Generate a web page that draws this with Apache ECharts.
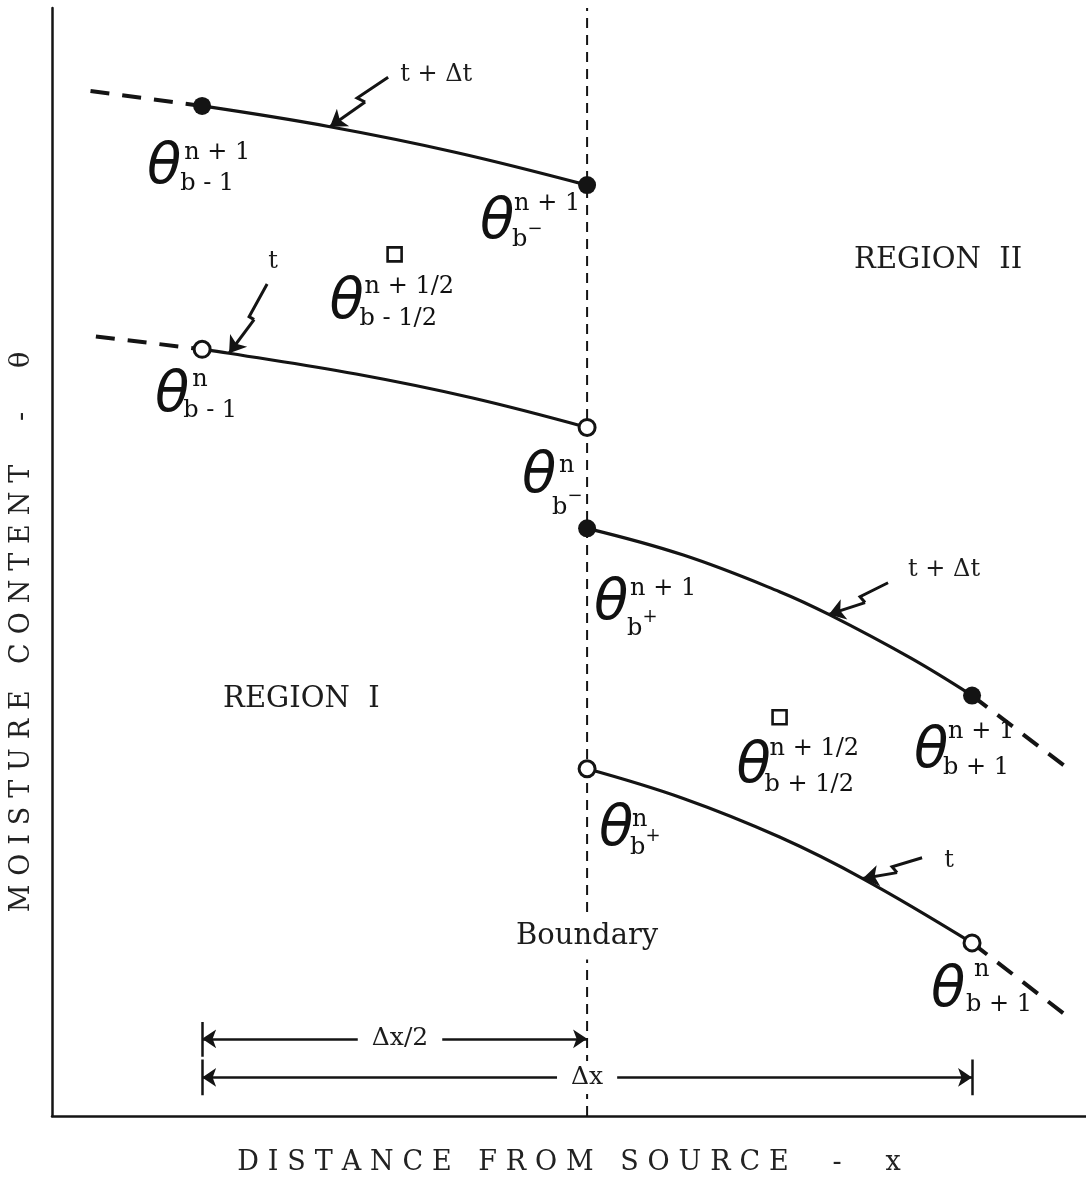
<!DOCTYPE html>
<html>
<head>
<meta charset="utf-8">
<script src="https://cdn.jsdelivr.net/npm/echarts@6/dist/echarts.min.js"></script>
<style>
  html, body { margin: 0; padding: 0; background: #fff; }
  #chart { width: 1086px; height: 1181px; }
</style>
</head>
<body>
<div id="chart"></div>
<script>
// Finite-difference stencil across a material boundary.
// x: distance in units of Δx (node b-1 at 0, boundary at 1/2, node b+1 at 1)
// y: moisture content θ (arbitrary units)

const boundaryX = 0.5;

// Moisture profiles at the new time level (t + Δt)
const profileNewRegionI  = [[0, 10.21], [0.166, 10.00], [0.33, 9.74], [0.5, 9.41]];
const profileNewRegionII = [[0.5, 5.94], [0.625, 5.67], [0.75, 5.30], [0.814, 5.07], [0.92, 4.63], [1.0, 4.25]];
// Moisture profiles at the old time level (t)
const profileOldRegionI  = [[0, 7.75], [0.035, 7.71], [0.2, 7.50], [0.35, 7.26], [0.5, 6.96]];
const profileOldRegionII = [[0.5, 3.51], [0.625, 3.21], [0.75, 2.82], [0.858, 2.40], [1.0, 1.75]];

// Continuations of the profiles beyond the nodes
const tailNewLeft  = [[-0.145, 10.36]];
const tailOldLeft  = [[-0.138, 7.88]];
const tailNewRight = [[1.13, 3.48]];
const tailOldRight = [[1.12, 1.03]];

// Half-step (time and space) values
const halfStep = [[0.25, 8.71], [0.75, 4.03]];

const first = a => a[0];
const last = a => a[a.length - 1];

// Nodes: filled = time level n+1, open = time level n
const nodesNew = [first(profileNewRegionI), last(profileNewRegionI), first(profileNewRegionII), last(profileNewRegionII)];
const nodesOld = [first(profileOldRegionI), last(profileOldRegionI), first(profileOldRegionII), last(profileOldRegionII)];

// θ symbols: superscript (time level) and subscript (position)
const thetaLabels = [
  { node: nodesNew[0], sup: 'n + 1',   sub: 'b - 1' },
  { node: nodesNew[1], sup: 'n + 1',   sub: 'b', mark: '−' },
  { node: halfStep[0], sup: 'n + 1/2', sub: 'b - 1/2' },
  { node: nodesOld[0], sup: 'n',       sub: 'b - 1' },
  { node: nodesOld[1], sup: 'n',       sub: 'b', mark: '−' },
  { node: nodesNew[2], sup: 'n + 1',   sub: 'b', mark: '+' },
  { node: halfStep[1], sup: 'n + 1/2', sub: 'b + 1/2' },
  { node: nodesNew[3], sup: 'n + 1',   sub: 'b + 1' },
  { node: nodesOld[2], sup: 'n',       sub: 'b', mark: '+' },
  { node: nodesOld[3], sup: 'n',       sub: 'b + 1' }
];
// pixel offsets from each node: [θ dx, θ dy, sup dx, sup dy, sub dx, sub dy]
const thetaLayout = [
  [-38, 63, -18, 47, -22, 78],
  [-90, 38, -73, 19, -75, 51],
  [-48, 49, -30, 32, -35, 64],
  [-30, 47, -10, 30, -19, 61],
  [-48, 50, -28, 38, -35, 76],
  [ 24, 76,  43, 60,  40, 96],
  [-26, 50, -10, 31, -15, 67],
  [-41, 57, -24, 36, -29, 72],
  [ 29, 62,  45, 51,  43, 75],
  [-24, 49,   2, 27,  -6, 62]
];

// Lightning pointers from the time labels to the profiles
const pointerText = ['t + Δt', 't', 't + Δt', 't'];
const pointerTips = [profileNewRegionI[1], profileOldRegionI[1], profileNewRegionII[3], profileOldRegionII[3]];
const pointerLayout = [
  { path: [[0.2416, 10.50], [0.2013, 10.29], [0.2117, 10.25]], text: [12, -2, 'left'] },
  { path: [[0.0844, 8.41], [0.0610, 8.08], [0.0675, 8.05]],   text: [6, -22, 'center'] },
  { path: [[0.8909, 5.39], [0.8545, 5.25], [0.8610, 5.19]],   text: [20, -13, 'left'] },
  { path: [[0.9351, 2.61], [0.8961, 2.52], [0.9026, 2.46]],   text: [27, 3, 'center'] }
];

// Region and boundary captions
const captionText = ['REGION  II', 'REGION  I', 'Boundary'];
const captionLayout = [[0.956, 8.65], [0.129, 4.21], [boundaryX, 1.81]];

// Dimension lines
const dimText = ['Δx/2', 'Δx'];
const dimSpans = [[0, boundaryX], [0, 1]];
const dimLayout = { rows: [0.78, 0.39], bars: [[0.95, 0.60], [0.57, 0.21]], labelX: [0.257, boundaryX] };

const INK = '#141414';
const SERIF = '"DejaVu Serif", "Liberation Serif", serif';
const spaced = s => Array.from(s).join('\u2004');

const lineSeries = (name, data, extra) => Object.assign({
  name, type: 'line', data, showSymbol: false, silent: true, z: 3,
  lineStyle: { color: INK, width: 3.2 }
}, extra || {});

const dashedTail = (name, pts) => lineSeries(name, pts, {
  z: 2, lineStyle: { color: INK, width: 4, type: [19, 13], cap: 'butt' }
});

// label items for θ symbols
const thetaItems = [];
thetaLabels.forEach((t, i) => {
  const L = thetaLayout[i];
  thetaItems.push({ value: t.node, label: { formatter: '{th|θ}', offset: [L[0], L[1]], align: 'center' } });
  thetaItems.push({ value: t.node, label: { formatter: '{sp|' + t.sup + '}', offset: [L[2], L[3]], align: 'left' } });
  const sub = t.mark ? '{sb2|' + t.sub + '}{pm|' + t.mark + '}' : '{sb|' + t.sub + '}';
  thetaItems.push({ value: t.node, label: { formatter: sub, offset: [L[4], L[5]], align: 'left' } });
});

const noteItems = [];
captionText.forEach((txt, i) => {
  noteItems.push({ value: captionLayout[i], label: { formatter: '{cap|' + txt + '}', align: 'center' } });
});
pointerText.forEach((txt, i) => {
  const p = pointerLayout[i];
  noteItems.push({ value: p.path[0], label: { formatter: '{tl|' + txt + '}', offset: [p.text[0], p.text[1]], align: p.text[2] } });
});
dimText.forEach((txt, i) => {
  noteItems.push({ value: [dimLayout.labelX[i], dimLayout.rows[i]], label: { formatter: '{dm|' + txt + '}', align: 'center' } });
});

const chart = echarts.init(document.getElementById('chart'), null, { renderer: 'canvas' });

chart.setOption({
  backgroundColor: '#ffffff',
  animation: false,
  grid: { left: 52, right: 0, top: 8, bottom: 53, containLabel: false },
  xAxis: {
    type: 'value', min: -0.195, max: 1.148,
    axisLine: { show: true, onZero: false, lineStyle: { color: INK, width: 2.5 } },
    axisTick: { show: false }, axisLabel: { show: false }, splitLine: { show: false },
    name: spaced('DISTANCE FROM SOURCE  -  x'), nameLocation: 'middle', nameGap: 33,
    nameTextStyle: { fontFamily: SERIF, fontSize: 27, color: '#222' }
  },
  yAxis: {
    type: 'value', min: 0, max: 11.2,
    axisLine: { show: true, onZero: false, lineStyle: { color: INK, width: 2.5 } },
    axisTick: { show: false }, axisLabel: { show: false }, splitLine: { show: false }
  },
  graphic: [{
    type: 'text', x: 22, y: 632, rotation: Math.PI / 2,
    style: {
      text: spaced('MOISTURE CONTENT  -  θ'), fontFamily: SERIF, fontSize: 27,
      fill: '#222', align: 'center', verticalAlign: 'middle'
    }
  }],
  series: [
    // boundary between the two regions
    lineSeries('boundary', [[boundaryX, 0], [boundaryX, 11.2]], {
      z: 1, lineStyle: { color: INK, width: 2, type: [10, 7] }
    }),
    lineSeries('new I', profileNewRegionI, { smooth: 0.4 }),
    lineSeries('new II', profileNewRegionII, { smooth: 0.4 }),
    lineSeries('old I', profileOldRegionI, { smooth: 0.4 }),
    lineSeries('old II', profileOldRegionII, { smooth: 0.4 }),
    dashedTail('tail new left', tailNewLeft.concat([nodesNew[0]])),
    dashedTail('tail old left', tailOldLeft.concat([nodesOld[0]])),
    dashedTail('tail new right', [nodesNew[3]].concat(tailNewRight)),
    dashedTail('tail old right', [nodesOld[3]].concat(tailOldRight)),
    {
      name: 'nodes n+1', type: 'scatter', data: nodesNew, symbol: 'circle', symbolSize: 18,
      itemStyle: { color: INK, opacity: 1 }, z: 5, silent: true
    },
    {
      name: 'nodes n', type: 'scatter', data: nodesOld, symbol: 'circle', symbolSize: 16,
      itemStyle: { color: '#fff', borderColor: INK, borderWidth: 3, opacity: 1 }, z: 5, silent: true
    },
    {
      name: 'half step', type: 'scatter', data: halfStep, symbol: 'rect', symbolSize: 14,
      itemStyle: { color: '#fff', borderColor: INK, borderWidth: 2.6, opacity: 1 }, z: 5, silent: true
    },
    {
      name: 'pointer stems', type: 'lines', coordinateSystem: 'cartesian2d', polyline: true, silent: true, z: 4,
      symbol: 'none',
      lineStyle: { color: INK, width: 3, opacity: 1, join: 'miter' },
      data: pointerLayout.map(p => ({ coords: p.path }))
    },
    {
      name: 'pointer heads', type: 'lines', coordinateSystem: 'cartesian2d', silent: true, z: 4,
      symbol: ['none', 'arrow'], symbolSize: 16,
      lineStyle: { color: INK, width: 3, opacity: 1 },
      data: pointerLayout.map((p, i) => ({ coords: [last(p.path), pointerTips[i]] }))
    },
    {
      name: 'dimension arrows', type: 'lines', coordinateSystem: 'cartesian2d', silent: true, z: 4,
      symbol: ['arrow', 'arrow'], symbolSize: 14,
      lineStyle: { color: INK, width: 2.5, opacity: 1 },
      data: dimSpans.map((s, i) => ({ coords: [[s[0], dimLayout.rows[i]], [s[1], dimLayout.rows[i]]] }))
    },
    {
      name: 'dimension bars', type: 'lines', coordinateSystem: 'cartesian2d', silent: true, z: 4,
      symbol: 'none', lineStyle: { color: INK, width: 2.5, opacity: 1 },
      data: [
        { coords: [[dimSpans[0][0], dimLayout.bars[0][0]], [dimSpans[0][0], dimLayout.bars[0][1]]] },
        { coords: [[dimSpans[1][0], dimLayout.bars[1][0]], [dimSpans[1][0], dimLayout.bars[1][1]]] },
        { coords: [[dimSpans[1][1], dimLayout.bars[1][0]], [dimSpans[1][1], dimLayout.bars[1][1]]] }
      ]
    },
    {
      name: 'theta labels', type: 'scatter', data: thetaItems, symbolSize: 0.1,
      itemStyle: { color: 'rgba(0,0,0,0)', opacity: 1 }, z: 6, silent: true,
      label: {
        show: true, position: 'inside', verticalAlign: 'middle', color: '#111',
        rich: {
          th: { fontFamily: '"DejaVu Sans", sans-serif', fontStyle: 'italic', fontSize: 56, color: '#111' },
          sp: { fontFamily: SERIF, fontSize: 24, color: '#111' },
          sb: { fontFamily: SERIF, fontSize: 24, color: '#111' },
          sb2: { fontFamily: SERIF, fontSize: 24, lineHeight: 32, verticalAlign: 'bottom', color: '#111' },
          pm: { fontFamily: SERIF, fontSize: 18, verticalAlign: 'top', color: '#111' }
        }
      }
    },
    {
      name: 'notes', type: 'scatter', data: noteItems, symbolSize: 0.1,
      itemStyle: { color: 'rgba(0,0,0,0)', opacity: 1 }, z: 6, silent: true,
      label: {
        show: true, position: 'inside', verticalAlign: 'middle', color: '#1c1c1c',
        rich: {
          cap: { fontFamily: SERIF, fontSize: 29, color: '#1c1c1c', backgroundColor: '#fff', padding: [8, 2] },
          tl: { fontFamily: SERIF, fontSize: 24, color: '#1c1c1c' },
          dm: { fontFamily: SERIF, fontSize: 25, color: '#1c1c1c', backgroundColor: '#fff', padding: [4, 14] }
        }
      }
    }
  ]
});
</script>
</body>
</html>
